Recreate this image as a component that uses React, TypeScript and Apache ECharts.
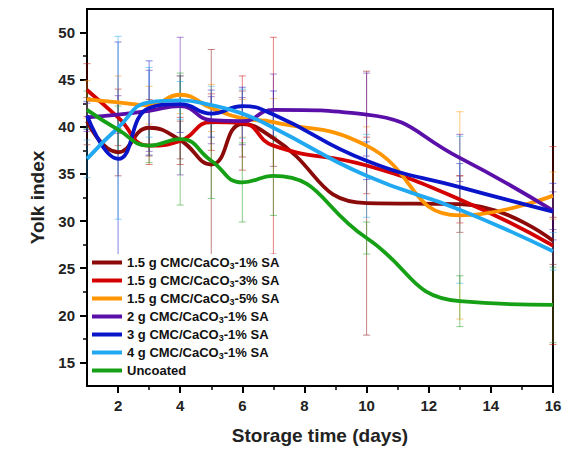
import React, { useEffect, useRef } from "react";
import * as echarts from "echarts";

// ---- data ----
const days = [1, 2, 3, 4, 5, 6, 7, 10, 13, 16];

const seriesNames = [
  "1.5 g CMC/CaCO3-1% SA",
  "1.5 g CMC/CaCO3-3% SA",
  "1.5 g CMC/CaCO3-5% SA",
  "2 g CMC/CaCO3-1% SA",
  "3 g CMC/CaCO3-1% SA",
  "4 g CMC/CaCO3-1% SA",
  "Uncoated",
];

const cmc15_1 = [40.6, 37.3, 39.9, 38.6, 36.0, 40.3, 38.8, 31.9, 31.8, 27.9];
const cmc15_3 = [43.9, 41.0, 38.0, 38.5, 40.5, 40.4, 38.0, 35.9, 32.3, 27.4];
const cmc15_5 = [42.9, 42.6, 42.3, 43.4, 42.0, 40.9, 40.5, 38.0, 30.6, 32.7];
const cmc2_1 = [41.0, 41.3, 41.7, 42.2, 40.7, 40.6, 41.8, 41.3, 36.7, 31.1];
const cmc3_1 = [41.2, 36.6, 42.0, 42.4, 41.4, 42.2, 41.3, 36.4, 33.6, 31.0];
const cmc4_1 = [36.6, 39.9, 42.6, 42.8, 42.3, 41.4, 39.9, 34.8, 31.2, 26.8];
const uncoated = [41.8, 39.7, 38.0, 38.7, 36.4, 34.1, 34.8, 28.2, 21.5, 21.1];

const err15_1 = [2.5, 2.5, 3.0, 2.0, 12.2, 3.5, 3.0, 14.0, 3.0, 2.5];
const err15_3 = [2.8, 3.0, 2.0, 2.5, 3.0, 5.0, 11.5, 3.0, 2.5, 10.5];
const err15_5 = [2.0, 2.8, 2.0, 2.0, 2.5, 2.0, 2.5, 2.0, 11.0, 2.5];
const err2_1 = [1.5, 2.0, 4.3, 7.3, 2.5, 2.5, 3.8, 4.4, 2.5, 2.0];
const err3_1 = [1.5, 12.4, 5.0, 3.0, 2.5, 2.0, 2.5, 2.0, 2.5, 3.0];
const err4_1 = [2.0, 9.7, 3.7, 2.0, 2.0, 2.6, 2.0, 4.4, 7.8, 2.0];
const errUncoated = [2.0, 2.5, 1.8, 7.0, 4.0, 4.2, 4.2, 1.7, 2.7, 4.0];

const xTicks = [2, 4, 6, 8, 10, 12, 14, 16];
const xMinorTicks = [3, 5, 7, 9, 11, 13, 15];
const yTicks = [15, 20, 25, 30, 35, 40, 45, 50];
const yMinorTicks = [17.5, 22.5, 27.5, 32.5, 37.5, 42.5, 47.5];

const values = [cmc15_1, cmc15_3, cmc15_5, cmc2_1, cmc3_1, cmc4_1, uncoated];
const errors = [err15_1, err15_3, err15_5, err2_1, err3_1, err4_1, errUncoated];
const colors = ["#8B0A0A", "#D40000", "#FF9500", "#5A0FA8", "#0A14C8", "#20A8F0", "#16A016"];

const FONT = "'Liberation Sans', Arial, sans-serif";

function hexA(hex: string, a: number) {
  const r = parseInt(hex.slice(1, 3), 16);
  const g = parseInt(hex.slice(3, 5), 16);
  const b = parseInt(hex.slice(5, 7), 16);
  return `rgba(${r},${g},${b},${a})`;
}

export default function App() {
  const ref = useRef<HTMLDivElement>(null);
  useEffect(() => {
    if (!ref.current) return;
    const chart = echarts.init(ref.current, undefined, { renderer: "svg" });

    const lineSeries = seriesNames.map((name, k) => ({
      name,
      type: "line",
      smooth: 0.5,
      showSymbol: false,
      symbol: "none",
      z: 3,
      color: colors[k],
      lineStyle: { color: colors[k], width: 3.8 },
      data: days.map((d, i) => [d, values[k][i]]),
    }));

    const errSeries = seriesNames.map((name, k) => ({
      name: "err-" + k,
      type: "custom",
      z: 2,
      data: days.map((d, i) => [d, values[k][i], errors[k][i]]),
      encode: { x: 0, y: 1 },
      renderItem: (params: any, api: any) => {
        const x = api.value(0);
        const y = api.value(1);
        const e = api.value(2);
        const top = api.coord([x, y + e]);
        const bot = api.coord([x, y - e]);
        const w = 3.5;
        const style = { stroke: hexA(colors[k], 0.5), lineWidth: 1 };
        return {
          type: "group",
          children: [
            { type: "line", shape: { x1: top[0], y1: top[1], x2: bot[0], y2: bot[1] }, style },
            { type: "line", shape: { x1: top[0] - w, y1: top[1], x2: top[0] + w, y2: top[1] }, style },
            { type: "line", shape: { x1: bot[0] - w, y1: bot[1], x2: bot[0] + w, y2: bot[1] }, style },
          ],
        };
      },
    }));

    const labelStyle = { fontSize: 15, fontWeight: "bold", color: "#222", fontFamily: FONT };

    const option: any = {
      animation: false,
      backgroundColor: "#fff",
      grid: {
        left: 87,
        right: 17,
        top: 9,
        bottom: 66,
        show: true,
        borderColor: "#000",
        borderWidth: 2,
        backgroundColor: "transparent",
      },
      xAxis: [
        {
          type: "value",
          min: 1,
          max: 16,
          position: "bottom",
          name: "Storage time (days)",
          nameLocation: "middle",
          nameGap: 40,
          nameTextStyle: { fontSize: 19, fontWeight: "bold", color: "#222", fontFamily: FONT },
          axisLine: { show: true, onZero: false, lineStyle: { color: "#000", width: 2 } },
          axisTick: { show: true, customValues: xTicks, length: 7, lineStyle: { color: "#000", width: 2 } },
          axisLabel: { ...labelStyle, customValues: xTicks, margin: 12 },
          splitLine: { show: false },
        },
        {
          type: "value",
          min: 1,
          max: 16,
          position: "bottom",
          axisLine: { show: false, onZero: false },
          axisTick: { show: true, customValues: xMinorTicks, length: 4, lineStyle: { color: "#000", width: 1.5 } },
          axisLabel: { show: false },
          splitLine: { show: false },
        },
      ],
      yAxis: [
        {
          type: "value",
          min: 12.5,
          max: 52.5,
          position: "left",
          name: "Yolk index",
          nameLocation: "middle",
          nameGap: 40,
          nameTextStyle: { fontSize: 19, fontWeight: "bold", color: "#222", fontFamily: FONT },
          axisLine: { show: true, onZero: false, lineStyle: { color: "#000", width: 2 } },
          axisTick: { show: true, customValues: yTicks, length: 7, lineStyle: { color: "#000", width: 2 } },
          axisLabel: { ...labelStyle, customValues: yTicks, margin: 12 },
          splitLine: { show: false },
        },
        {
          type: "value",
          min: 12.5,
          max: 52.5,
          position: "left",
          axisLine: { show: false, onZero: false },
          axisTick: { show: true, customValues: yMinorTicks, length: 4, lineStyle: { color: "#000", width: 1.5 } },
          axisLabel: { show: false },
          splitLine: { show: false },
        },
      ],
      legend: {
        orient: "vertical",
        left: 90,
        top: 254,
        itemWidth: 30,
        itemHeight: 4,
        itemGap: 4,
        icon: "rect",
        backgroundColor: "#fff",
        padding: [2, 4, 2, 2],
        z: 10,
        data: seriesNames,
        formatter: (name: string) => {
          const parts = name.split("CaCO3");
          if (parts.length === 2) {
            return `{t|${parts[0]}CaCO}{s|3}{t|${parts[1]}}`;
          }
          return `{t|${name}}`;
        },
        textStyle: {
          fontSize: 13,
          fontWeight: "bold",
          color: "#111",
          fontFamily: FONT,
          rich: {
            t: { fontSize: 13, fontWeight: "bold", color: "#111", fontFamily: FONT, lineHeight: 15 },
            s: { fontSize: 9, fontWeight: "bold", color: "#111", fontFamily: FONT, padding: [6, 0, 0, 0] },
          },
        },
      },
      series: [...errSeries, ...lineSeries],
    };

    chart.setOption(option);
    return () => chart.dispose();
  }, []);

  return (
    <div
      ref={ref}
      style={{ position: "fixed", left: 0, top: 0, width: 570, height: 452, background: "#fff" }}
    />
  );
}
